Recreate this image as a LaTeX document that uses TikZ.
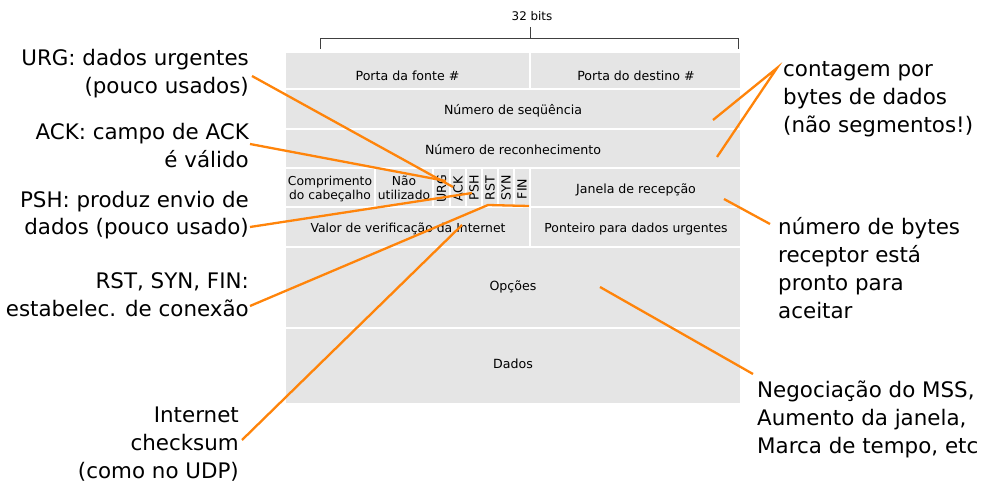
\documentclass[tikz,border=0pt]{standalone}
\usepackage{fontspec}
\setmainfont{DejaVu Sans}
\definecolor{tcporange}{RGB}{255,132,10}
\definecolor{cellgray}{RGB}{229,229,229}
\newcommand{\lblR}[1]{\begin{tabular}[t]{@{}r@{}}#1\end{tabular}}
\newcommand{\lblL}[1]{\begin{tabular}[t]{@{}l@{}}#1\end{tabular}}
\begin{document}
\begin{tikzpicture}[x=1pt,y=-1pt,
  cell/.style={fill=cellgray,draw=white,line width=1.6pt},
  tbl/.style={font=\fontsize{12.6}{14.2}\selectfont,text=black,inner sep=0pt},
  flag/.style={tbl,rotate=90,anchor=center},
  lbl/.style={font=\fontsize{21.4}{28}\selectfont,text=black,inner sep=0pt},
  callout/.style={draw=tcporange,line width=2.3pt},
  bracket/.style={draw=black!75,line width=0.8pt}]
\useasboundingbox (0,0) rectangle (985,500);
\fill[white] (0,0) rectangle (985,500);

% bracket and width label
\draw[bracket] (320,49) -- (320,38) -- (738,38) -- (738,49);
\draw[bracket] (530,38) -- (530,27);
\node[tbl,font=\fontsize{11.9}{13}\selectfont,anchor=base] (bits) at (532,21) {32 bits};

% cells
\path[cell] (285,52) rectangle (530,89);
\path[cell] (530,52) rectangle (741,89);
\path[cell] (285,89) rectangle (741,129);
\path[cell] (285,129) rectangle (741,168);
\path[cell] (285,168) rectangle (375,207);
\path[cell] (375,168) rectangle (433,207);
\path[cell] (433,168) rectangle (450,207);
\path[cell] (450,168) rectangle (466,207);
\path[cell] (466,168) rectangle (482,207);
\path[cell] (482,168) rectangle (498,207);
\path[cell] (498,168) rectangle (514,207);
\path[cell] (514,168) rectangle (530,207);
\path[cell] (530,168) rectangle (741,207);
\path[cell] (285,207) rectangle (530,247);
\path[cell] (530,207) rectangle (741,247);
\path[cell] (285,247) rectangle (741,328);
\path[cell] (285,328) rectangle (741,404);

% cell texts
\node[tbl,anchor=base] (src) at (407.5,81) {Porta da fonte \#};
\node[tbl,anchor=base] (dst) at (636,81) {Porta do destino \#};
\node[tbl,anchor=base] (seq) at (513,115) {Número de seqüência};
\node[tbl,anchor=base] (ackn) at (513,154) {Número de reconhecimento};
\node[tbl,font=\fontsize{12.3}{14.2}\selectfont,anchor=base] (hlen) at (330,185.5) {\begin{tabular}[t]{@{}c@{}}Comprimento\\do cabeçalho\end{tabular}};
\node[tbl,font=\fontsize{12.3}{14.2}\selectfont,anchor=base] (unused) at (404,185.5) {\begin{tabular}[t]{@{}c@{}}Não\\utilizado\end{tabular}};
\node[flag] (furg) at (441.5,189) {URG};
\node[flag] (fack) at (458,189) {ACK};
\node[flag] (fpsh) at (474,188) {PSH};
\node[flag] (frst) at (490,188) {RST};
\node[flag] (fsyn) at (506,188) {SYN};
\node[flag] (ffin) at (522,189) {FIN};
\node[tbl,anchor=base] (win) at (636,193) {Janela de recepção};
\node[tbl,font=\fontsize{12.4}{14.2}\selectfont,anchor=base] (csum) at (408,232) {Valor de verificação da Internet};
\node[tbl,font=\fontsize{12.4}{14.2}\selectfont,anchor=base] (urgp) at (636,232) {Ponteiro para dados urgentes};
\node[tbl,anchor=base] (opts) at (513,290) {Opções};
\node[tbl,anchor=base] (data) at (513,368) {Dados};

% labels left
\node[lbl,anchor=base east] (lurg) at (249,65.5) {\lblR{URG: dados urgentes\\(pouco usados)}};
\node[lbl,anchor=base east] (lack) at (249,139.5) {\lblR{ACK: campo de ACK\\é válido}};
\node[lbl,anchor=base east] (lpsh) at (249,207) {\lblR{PSH: produz envio de\\dados (pouco usado)}};
\node[lbl,anchor=base east] (lrsf) at (249,288) {\lblR{RST, SYN, FIN:\\estabelec. de conexão}};
\node[lbl,anchor=base east] (lchk) at (239,422) {\lblR{Internet\\checksum\\(como no UDP)}};

% labels right
\node[lbl,anchor=base west] (lcnt) at (783,76.5) {\lblL{contagem por\\bytes de dados\\(não segmentos!)}};
\node[lbl,anchor=base west] (lwin) at (778,234) {\lblL{número de bytes\\receptor está\\pronto para\\aceitar}};
\node[lbl,anchor=base west] (lopt) at (757,397) {\lblL{Negociação do MSS,\\Aumento da janela,\\Marca de tempo, etc}};

% connector end points
\coordinate (urg0) at (252,76);  \coordinate (urg1) at (453,187);
\coordinate (ack0) at (250,144); \coordinate (ack1) at (446,181);
\coordinate (psh0) at (250,227); \coordinate (psh1) at (472,193);
\coordinate (rsf0) at (250,306); \coordinate (rsf1) at (488,205); \coordinate (rsf2) at (529,206);
\coordinate (chk0) at (242,440); \coordinate (chk1) at (462,225);
\coordinate (cnt0) at (777,68);  \coordinate (cnt1) at (713,120); \coordinate (cnt2) at (717,157);
\coordinate (win0) at (770,224); \coordinate (win1) at (724,199);
\coordinate (opt0) at (600,287); \coordinate (opt1) at (753,374);

% connectors
\draw[callout] (urg0) -- (urg1);
\draw[callout] (ack0) -- (ack1);
\draw[callout] (psh0) -- (psh1);
\draw[callout] (rsf0) -- (rsf1) -- (rsf2);
\draw[callout] (chk0) -- (chk1);
\draw[callout] (cnt1) -- (cnt0) -- (cnt2);
\draw[callout] (win0) -- (win1);
\draw[callout] (opt0) -- (opt1);
\end{tikzpicture}
\end{document}
